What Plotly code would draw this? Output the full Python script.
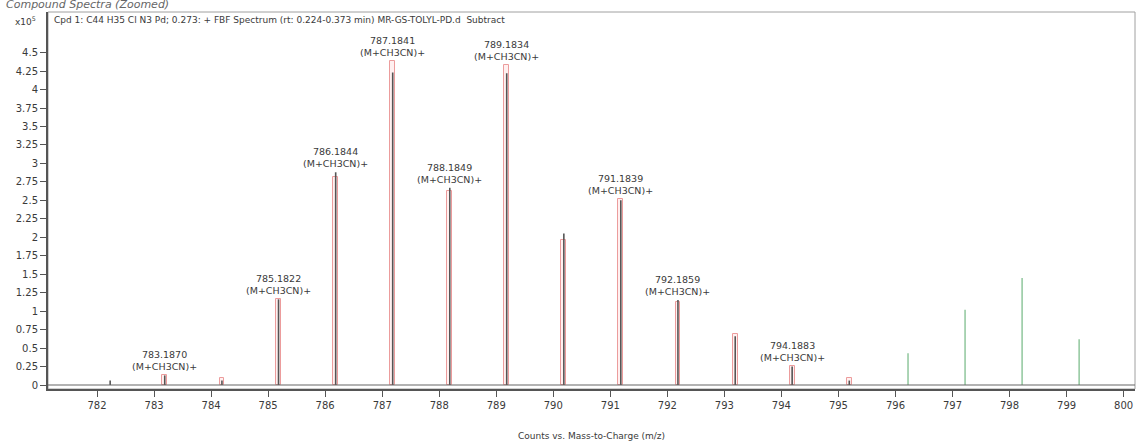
import plotly.graph_objects as go

# ---- data ----
measured_mz = [782.23, 783.187, 784.19, 785.1822, 786.1844, 787.1841, 788.1849, 789.1834,
               790.185, 791.1839, 792.1859, 793.19, 794.1883, 795.19]
measured_counts = [0.06, 0.13, 0.06, 1.16, 2.88, 4.23, 2.67, 4.22, 2.05, 2.50, 1.15, 0.66, 0.25, 0.06]  # x10^5

predicted_mz = [783.187, 784.19, 785.1822, 786.1844, 787.1841, 788.1849, 789.1834,
                790.185, 791.1839, 792.1859, 793.19, 794.1883, 795.19]
predicted_counts = [0.13, 0.09, 1.16, 2.82, 4.39, 2.62, 4.33, 1.97, 2.52, 1.12, 0.69, 0.26, 0.10]

other_mz = [796.22, 797.22, 798.22, 799.22]
other_counts = [0.43, 1.02, 1.45, 0.62]

label_mz = [783.1870, 785.1822, 786.1844, 787.1841, 788.1849, 789.1834, 791.1839, 792.1859, 794.1883]
label_species = "(M+CH3CN)+"

y_tick_vals = [0, 0.25, 0.5, 0.75, 1, 1.25, 1.5, 1.75, 2, 2.25, 2.5, 2.75, 3, 3.25, 3.5, 3.75, 4, 4.25, 4.5]
y_tick_text = ["0", "0.25", "0.5", "0.75", "1", "1.25", "1.5", "1.75", "2", "2.25", "2.5", "2.75",
               "3", "3.25", "3.5", "3.75", "4", "4.25", "4.5"]
x_tick_vals = list(range(782, 801))

header = "Cpd 1: C44 H35 Cl N3 Pd; 0.273: + FBF Spectrum (rt: 0.224-0.373 min) MR-GS-TOLYL-PD.d  Subtract"
x_title = "Counts vs. Mass-to-Charge (m/z)"
chart_title = "Compound Spectra (Zoomed)"

FONT = "DejaVu Sans"
TXT = "#3a3a3a"


def sticks(xs, ys):
    sx, sy = [], []
    for x, y in zip(xs, ys):
        sx += [x, x, None]
        sy += [0, y, None]
    return sx, sy


fig = go.Figure()

# predicted isotope boxes (pink outline)
fig.add_trace(go.Bar(
    x=predicted_mz, y=predicted_counts, width=0.085,
    marker=dict(color="rgba(255,222,222,0.45)", line=dict(color="#ec9c9c", width=1)),
    hoverinfo="skip", showlegend=False,
))

# other (green) lines
gx, gy = sticks(other_mz, other_counts)
fig.add_trace(go.Scatter(x=gx, y=gy, mode="lines", line=dict(color="#74b884", width=1.2),
                         hoverinfo="skip", showlegend=False))

# measured spectrum sticks
mx, my = sticks(measured_mz, measured_counts)
fig.add_trace(go.Scatter(x=mx, y=my, mode="lines", line=dict(color="#555555", width=1.6),
                         hoverinfo="skip", showlegend=False))

# peak labels
tops = {}
for x, y in zip(measured_mz, measured_counts):
    tops[round(x, 2)] = y
for x, y in zip(predicted_mz, predicted_counts):
    tops[round(x, 2)] = max(tops.get(round(x, 2), 0), y)

annotations = []
for m in label_mz:
    top = tops[round(m, 2)]
    annotations.append(dict(
        x=m, y=top, xref="x", yref="y", text=f"{m:.4f}<br>{label_species}",
        showarrow=False, yanchor="bottom", xanchor="center", yshift=1,
        font=dict(family=FONT, size=9.5, color=TXT), align="center",
    ))

annotations += [
    dict(x=0, y=1, xref="paper", yref="paper", xanchor="left", yanchor="top",
         xshift=4, yshift=-1, text=header, showarrow=False,
         font=dict(family=FONT, size=9, color=TXT)),
    dict(x=0, y=1, xref="paper", yref="paper", xanchor="right", yanchor="top",
         xshift=-10, yshift=-1, text="x10<sup>5</sup>", showarrow=False,
         font=dict(family=FONT, size=9, color=TXT)),
    dict(x=0, y=1, xref="paper", yref="paper", xanchor="left", yanchor="bottom",
         xshift=-44, yshift=-1, text=f"<i>{chart_title}</i>", showarrow=False,
         font=dict(family=FONT, size=11, color="#666666")),
    dict(x=0.5, y=0, xref="paper", yref="paper", xanchor="center", yanchor="top",
         yshift=-40, text=x_title, showarrow=False,
         font=dict(family=FONT, size=9, color=TXT)),
]

shapes = [
    # frame (top/right thin gray)
    dict(type="rect", xref="paper", yref="paper", x0=0, x1=1, y0=0, y1=1,
         line=dict(color="#a0a0a0", width=1), layer="below"),
    # baseline at zero counts
    dict(type="line", xref="paper", yref="y", x0=0, x1=1, y0=0, y1=0,
         line=dict(color="#666666", width=1.2)),
]

fig.update_layout(
    width=1137, height=445,
    margin=dict(l=48, r=2, t=12, b=56),
    paper_bgcolor="white", plot_bgcolor="white",
    font=dict(family=FONT, size=10, color=TXT),
    bargap=0, barmode="overlay",
    annotations=annotations, shapes=shapes,
    xaxis=dict(
        range=[781.14, 800.2], tickmode="array", tickvals=x_tick_vals,
        ticks="outside", ticklen=6, tickcolor="#555555", tickwidth=1,
        showgrid=False, zeroline=False, showline=True, linecolor="#555555", linewidth=1.5,
        tickfont=dict(family=FONT, size=10, color=TXT),
    ),
    yaxis=dict(
        range=[-0.054, 5.05], tickmode="array", tickvals=y_tick_vals, ticktext=y_tick_text,
        ticks="outside", ticklen=6, tickcolor="#555555", tickwidth=1,
        showgrid=False, zeroline=False, showline=True, linecolor="#555555", linewidth=2,
        tickfont=dict(family=FONT, size=10, color=TXT),
    ),
)

fig.write_html("out.html")
